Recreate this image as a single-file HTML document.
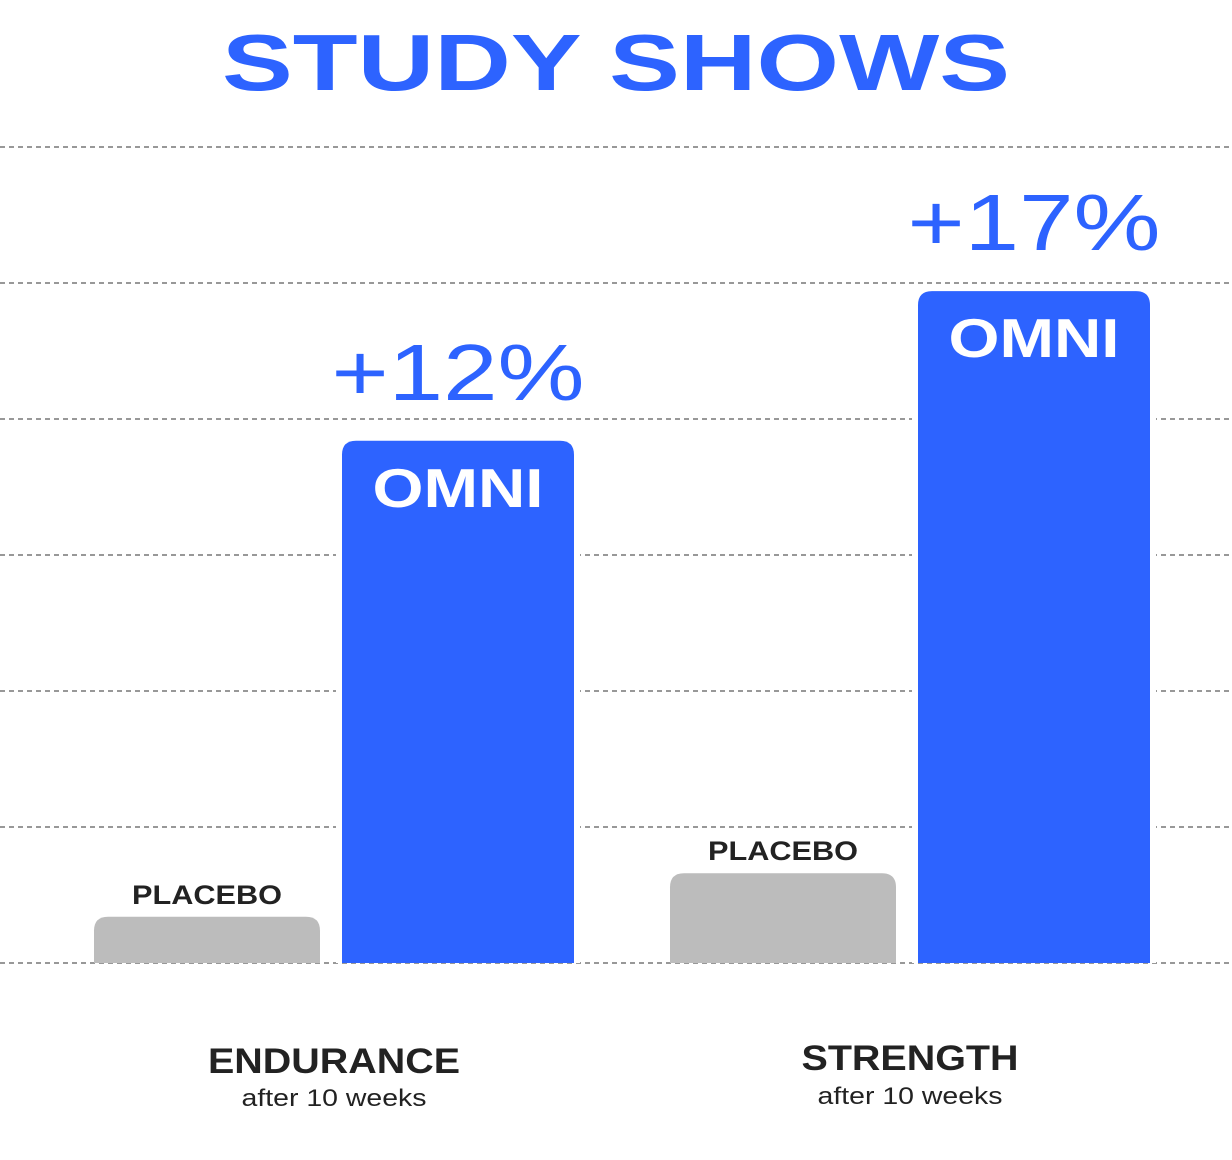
<!DOCTYPE html>
<html><head><meta charset="utf-8"><style>
html,body{margin:0;padding:0;background:#fff;}
svg{display:block;font-family:"Liberation Sans",sans-serif;}
</style></head><body>
<svg id="chart" width="1232" height="1160" viewBox="0 0 1232 1160">
<text x="222" y="90" font-size="80" font-weight="bold" fill="#2d63ff" textLength="788" lengthAdjust="spacingAndGlyphs">STUDY SHOWS</text>
<g id="grid"></g>
<g id="bars"></g>
<g id="labels"></g>
</svg>
<script>
const categories = ["ENDURANCE", "STRENGTH"];
const subtitles = ["after 10 weeks", "after 10 weeks"];
const placeboValues = [0.34, 0.66];
const omniValues = [3.84, 4.94];
const gainLabels = ["+12%", "+17%"];
const gridTicks = [0, 1, 2, 3, 4, 5, 6];

const NS = "http://www.w3.org/2000/svg";
const baseY = 963, unit = 136;
function y(v){ return baseY - v * unit; }
const groupX = [94, 670];      // left of placebo bar per group
const placeboW = 226, omniOff = 248, omniW = 232;
function mk(tag, attrs, parent){ const e = document.createElementNS(NS, tag); for (const k in attrs) e.setAttribute(k, attrs[k]); parent.appendChild(e); return e; }
const grid = document.getElementById("grid"), bars = document.getElementById("bars"), labels = document.getElementById("labels");

gridTicks.forEach(t => {
  const l = mk("line", {x1:0, x2:1232, y1:y(t), y2:y(t), stroke:"#777", "stroke-width":1.5, "stroke-dasharray":"5 4"}, grid);
  
  
});

function roundTop(x, top, w, bottom, r){
  return `M${x},${bottom} L${x},${top+r} Q${x},${top} ${x+r},${top} L${x+w-r},${top} Q${x+w},${top} ${x+w},${top+r} L${x+w},${bottom} Z`;
}

categories.forEach((c, i) => {
  const gx = groupX[i];
  const pTop = y(placeboValues[i]);
  const p = mk("path", {d: roundTop(gx, pTop, placeboW, baseY, 14), fill:"#bcbcbc"}, bars);
  
  
  const ox = gx + omniOff, oTop = y(omniValues[i]);
  const pad = mk("rect", {x: ox-6, y: oTop-6, width: omniW+12, height: baseY-oTop+6, fill:"#fff"}, bars);
  
  
  const o = mk("path", {d: roundTop(ox, oTop, omniW, baseY, 14), fill:"#2d63ff"}, bars);
  
  

  const pl = mk("text", {x: gx + placeboW/2, y: pTop - 13, "font-size": 27, "font-weight":"bold", fill:"#222", "text-anchor":"middle", textLength:150, lengthAdjust:"spacingAndGlyphs"}, labels);
  pl.textContent = "PLACEBO";
  
  
  const om = mk("text", {x: ox + omniW/2, y: oTop + 66, "font-size": 55, "font-weight":"bold", fill:"#fff", "text-anchor":"middle", textLength:171, lengthAdjust:"spacingAndGlyphs"}, labels);
  om.textContent = "OMNI";
  
  
  const g = mk("text", {x: ox + omniW/2, y: oTop - 41, "font-size": 80, fill:"#2d63ff", "text-anchor":"middle", textLength:253, lengthAdjust:"spacingAndGlyphs"}, labels);
  g.textContent = gainLabels[i];
  
  

  const cx = gx + (omniOff + omniW) / 2;
  const ct = mk("text", {x: cx, y: 1073 - i*3, "font-size": 35, "font-weight":"bold", fill:"#222", "text-anchor":"middle", textLength: i ? 217 : 252, lengthAdjust:"spacingAndGlyphs"}, labels);
  ct.textContent = c;
  
  
  const st = mk("text", {x: cx, y: 1106 - i*2, "font-size": 24, fill:"#222", "text-anchor":"middle", textLength:185, lengthAdjust:"spacingAndGlyphs"}, labels);
  st.textContent = subtitles[i];
  
  
});
</script>
</body></html>
